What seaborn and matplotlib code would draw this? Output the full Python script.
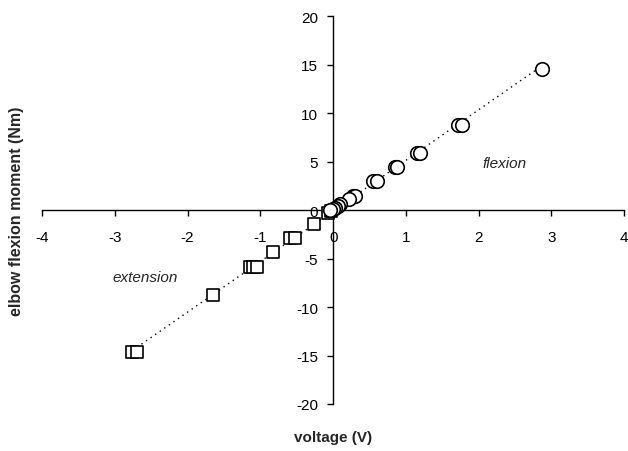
import numpy as np
import pandas as pd
import matplotlib
matplotlib.use("Agg")
import matplotlib.pyplot as plt
import seaborn as sns

# Values
flex_volt = [2.87, 1.72, 1.77, 1.15, 1.19, 0.85, 0.88, 0.55, 0.60, 0.27, 0.30,
             0.22, 0.10, 0.07, 0.03, 0.00, -0.05]
flex_moment = [14.6, 8.8, 8.8, 5.9, 5.9, 4.4, 4.4, 3.0, 3.0, 1.5, 1.5,
               1.1, 0.6, 0.4, 0.2, 0.1, 0.0]

ext_volt = [-2.76, -2.70, -1.65, -1.14, -1.10, -1.05, -0.82, -0.59, -0.52,
            -0.27, -0.07, -0.03]
ext_moment = [-14.6, -14.6, -8.8, -5.9, -5.9, -5.9, -4.3, -2.9, -2.9,
              -1.4, -0.3, -0.1]

x_ticks = [-4, -3, -2, -1, 0, 1, 2, 3, 4]
y_ticks = [-20, -15, -10, -5, 0, 5, 10, 15, 20]

flex = pd.DataFrame({"voltage": flex_volt, "moment": flex_moment})
ext = pd.DataFrame({"voltage": ext_volt, "moment": ext_moment})
both = pd.concat([flex, ext], ignore_index=True)

sns.set_style("white")
plt.rcParams["font.family"] = ["Liberation Sans", "DejaVu Sans"]
plt.rcParams["axes.unicode_minus"] = False

fig = plt.figure(figsize=(6.28, 4.52), dpi=100)
ax = fig.add_axes([0.067, 0.104, 0.927, 0.858])

# dotted linear trendline through all points
sns.regplot(data=both, x="voltage", y="moment", scatter=False, ci=None,
            color="black", line_kws={"linestyle": (0, (1, 3)), "linewidth": 1.0},
            ax=ax)

sns.scatterplot(data=ext, x="voltage", y="moment", marker="s", s=85,
                facecolor="white", edgecolor="black", linewidth=1.2,
                zorder=3, ax=ax)
sns.scatterplot(data=flex, x="voltage", y="moment", marker="o", s=95,
                facecolor="white", edgecolor="black", linewidth=1.2,
                zorder=3, ax=ax)

ax.set_xlim(-4, 4)
ax.set_ylim(-20, 20)
ax.set_xticks(x_ticks)
ax.set_yticks(y_ticks)

# axes crossing at the origin
ax.spines["left"].set_position(("data", 0))
ax.spines["bottom"].set_position(("data", 0))
ax.spines["right"].set_visible(False)
ax.spines["top"].set_visible(False)
for sp in ["left", "bottom"]:
    ax.spines[sp].set_color("black")
    ax.spines[sp].set_linewidth(1.0)

ax.tick_params(axis="x", direction="out", length=4, width=1, pad=10,
               labelsize=11, colors="black")
ax.tick_params(axis="y", direction="out", length=4, width=1, pad=7,
               labelsize=11, colors="black")
ax.xaxis.set_ticks_position("bottom")
ax.yaxis.set_ticks_position("left")

ax.set_xlabel("voltage (V)", fontsize=11, fontweight="bold")
ax.set_ylabel("elbow flexion moment (Nm)", fontsize=11.5, fontweight="bold")
ax.xaxis.set_label_coords(0.5, -0.068)
ax.yaxis.set_label_coords(-0.031, 0.5)

ax.text(2.35, 4.9, "flexion", fontsize=11, style="italic", ha="center", va="center")
ax.text(-2.58, -6.9, "extension", fontsize=11, style="italic", ha="center", va="center")

fig.savefig("out.png", dpi=100)
